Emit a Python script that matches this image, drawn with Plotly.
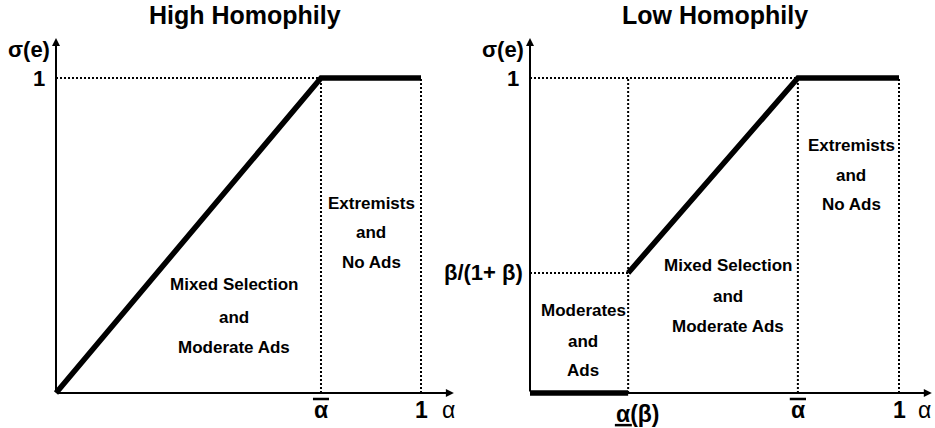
import plotly.graph_objects as go

# ---- data (fractions of unit axes) ----
alpha_bar = 0.726          # threshold ᾱ (both panels)
alpha_beta = 0.266         # α(β) in low-homophily panel
beta_level = 0.381         # β/(1+β)
x_one = 1.0
y_one = 1.0

high_x = [0, alpha_bar, x_one]
high_y = [0, y_one, y_one]
low_bottom_x = [0, alpha_beta]
low_bottom_y = [0, 0]
low_x = [alpha_beta, alpha_bar, x_one]
low_y = [beta_level, y_one, y_one]

titles = ["High Homophily", "Low Homophily"]
region_mixed = ["Mixed Selection", "and", "Moderate Ads"]
region_extreme = ["Extremists", "and", "No Ads"]
region_moderates = ["Moderates", "and", "Ads"]

# ---- layout ----
W, H = 935, 428
FONT = "Arial, Liberation Sans, sans-serif"
PX_X0_L, PX_X1_L = 56, 421
PX_X0_R, PX_X1_R = 530, 899
PX_Y0, PX_Y1 = 393, 78
SPLIT = 467

fig = go.Figure()

def line(x, y, ax, w=5.5, dash=None):
    fig.add_trace(go.Scatter(x=x, y=y, mode="lines", xaxis=ax[0], yaxis=ax[1],
                             line=dict(color="black", width=w, dash=dash),
                             cliponaxis=False, hoverinfo="skip", showlegend=False))

A1 = ("x", "y")
A2 = ("x2", "y2")
DOT = "2px,2px"

# dotted guides - high
line([0, alpha_bar], [y_one, y_one], A1, 2, DOT)
line([alpha_bar, alpha_bar], [0, y_one], A1, 2, DOT)
line([x_one, x_one], [0, y_one], A1, 2, DOT)
# dotted guides - low
line([0, alpha_bar], [y_one, y_one], A2, 2, DOT)
line([alpha_beta, alpha_beta], [0, y_one], A2, 2, DOT)
line([0, alpha_beta], [beta_level, beta_level], A2, 2, DOT)
line([alpha_bar, alpha_bar], [0, y_one], A2, 2, DOT)
line([x_one, x_one], [0, y_one], A2, 2, DOT)

# thick curves
line(high_x, high_y, A1)
line(low_bottom_x, low_bottom_y, A2)
line(low_x, low_y, A2)

def xr(p0, p1, d0, d1):
    s = p1 - p0
    return [(d0 - p0) / s, (d1 - p0) / s]

ys = PX_Y0 - PX_Y1
y_range = [(PX_Y0 - H) / ys, PX_Y0 / ys]
ax_common = dict(visible=False, showgrid=False, zeroline=False, fixedrange=True)
fig.update_layout(
    width=W, height=H, margin=dict(l=0, r=0, t=0, b=0),
    paper_bgcolor="white", plot_bgcolor="white",
    xaxis=dict(domain=[0, SPLIT / W], range=xr(PX_X0_L, PX_X1_L, 0, SPLIT), **ax_common),
    yaxis=dict(domain=[0, 1], range=y_range, **ax_common),
    xaxis2=dict(domain=[SPLIT / W, 1], range=xr(PX_X0_R, PX_X1_R, SPLIT, W), anchor="y2", **ax_common),
    yaxis2=dict(domain=[0, 1], range=y_range, anchor="x2", **ax_common),
    font=dict(family=FONT, color="black"),
)

ann = []
shapes = []
for xa, ya, xtip, ytip, alx in [("x", "y", 1.09, 1.127, 1.074), ("x2", "y2", 1.089, 1.127, 1.07)]:
    # axis arrows
    ann.append(dict(x=xtip, y=0, ax=0, ay=0, xref=xa, yref=ya, axref=xa, ayref=ya,
                    text="", showarrow=True, arrowhead=2, arrowsize=0.8, arrowwidth=2, arrowcolor="black"))
    ann.append(dict(x=0, y=ytip, ax=0, ay=0, xref=xa, yref=ya, axref=xa, ayref=ya,
                    text="", showarrow=True, arrowhead=2, arrowsize=0.8, arrowwidth=2, arrowcolor="black"))
    lbl = dict(xref=xa, yref=ya, showarrow=False)
    ann.append(dict(x=0, y=1.089, text="<b>σ(e)</b>", xanchor="right", xshift=-4,
                    font=dict(size=22, family=FONT), **lbl))
    ann.append(dict(x=0, y=y_one, text="<b>1</b>", xanchor="right", xshift=-9,
                    font=dict(size=22, family=FONT), **lbl))
    ann.append(dict(x=alpha_bar, y=-0.054, text="<b>α</b>", yanchor="middle",
                    font=dict(size=23, family=FONT), **lbl))
    ann.append(dict(x=x_one, y=-0.054, text="<b>1</b>", yanchor="middle",
                    font=dict(size=23, family=FONT), **lbl))
    ann.append(dict(x=alx, y=-0.054, text="α", yanchor="middle",
                    font=dict(size=23, family=FONT), **lbl))
    shapes.append(dict(type="line", xref=xa, yref=ya, x0=alpha_bar - 0.022, x1=alpha_bar + 0.022,
                       y0=-0.019, y1=-0.019, line=dict(color="black", width=2.5)))

# titles
ann.append(dict(x=0.518, y=1.2, xref="x", yref="y", text="<b>" + titles[0] + "</b>",
                showarrow=False, font=dict(size=25, family=FONT)))
ann.append(dict(x=0.501, y=1.2, xref="x2", yref="y2", text="<b>" + titles[1] + "</b>",
                showarrow=False, font=dict(size=25, family=FONT)))

# β/(1+β) and α(β)
ann.append(dict(x=0, y=beta_level, xref="x2", yref="y2", text="<b>β/(1+ β)</b>", xanchor="right",
                xshift=-5, showarrow=False, font=dict(size=22, family=FONT)))
ann.append(dict(x=alpha_beta, y=-0.066, xref="x2", yref="y2", text="<b>α(β)</b>", xanchor="left",
                yanchor="middle", xshift=-14, showarrow=False, font=dict(size=23, family=FONT)))
shapes.append(dict(type="line", xref="x2", yref="y2", x0=alpha_beta - 0.036, x1=alpha_beta + 0.01,
                   y0=-0.102, y1=-0.102, line=dict(color="black", width=2.5)))

# region texts (one annotation per line for the wide line spacing)
def region(lines, xa, ya, x, ys_):
    for t, y in zip(lines, ys_):
        ann.append(dict(x=x, y=y, xref=xa, yref=ya, text="<b>" + t + "</b>", showarrow=False,
                        font=dict(size=17, family=FONT)))

region(region_mixed, "x", "y", 0.488, [0.343, 0.241, 0.146])
region(region_extreme, "x", "y", 0.863, [0.603, 0.508, 0.413])
region(region_moderates, "x2", "y2", 0.144, [0.263, 0.165, 0.070])
region(region_mixed, "x2", "y2", 0.537, [0.406, 0.305, 0.210])
region(region_extreme, "x2", "y2", 0.870, [0.787, 0.692, 0.597])

fig.update_layout(annotations=ann, shapes=shapes)
fig.write_html("out.html", config={"displayModeBar": False},
               post_script="document.body.style.margin='0';document.body.style.overflow='hidden';")
